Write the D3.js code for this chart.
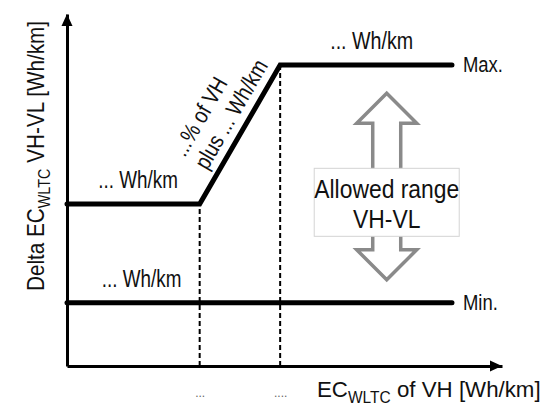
<!DOCTYPE html>
<html>
<head>
<meta charset="utf-8">
<script src="https://cdn.jsdelivr.net/npm/d3@7"></script>
<style>
  body { margin: 0; background: #fff; }
  text { font-family: "Liberation Sans", Arial, sans-serif; fill: #111; }
</style>
</head>
<body>
<svg id="chart" width="553" height="419"></svg>
<script>
// limit curves (concept chart, no real numbers)
var maxLine = [{x: 0, y: 46}, {x: 30.5, y: 46}, {x: 49, y: 85.5}, {x: 88.5, y: 85.5}];
var minLine = [{x: 0, y: 18}, {x: 88.5, y: 18}];
var guideX = [30.5, 49];
var xTickLabels = ['...', '....'];
var lineLabels = [
  {x: 7.2, y: 46, text: '... Wh/km'},
  {x: 8, y: 18, text: '... Wh/km'},
  {x: 60.5, y: 85.5, text: '... Wh/km'}
];
var endLabels = ['Max.', 'Min.'];
var slopeLabel = ['...% of VH', 'plus ... Wh/km'];
var rangeArrow = {x: 73.5, top: 77.5, bottom: 24.5, mid: 46.5};
var rangeLabel = ['Allowed range', 'VH-VL'];

var svg = d3.select('#chart');

var x = d3.scaleLinear().domain([0, 100]).range([67, 502]);
var y = d3.scaleLinear().domain([0, 100]).range([366, 14]);

// no narrow font installed, so squeeze the normal one
function narrow(tx, ty, rot, sq) {
  return svg.append('g')
    .attr('transform', 'translate(' + tx + ',' + ty + ')' + (rot ? ' rotate(' + rot + ')' : '') + ' scale(' + sq + ',1)')
    .append('text');
}

// x axis, only the two dotted tick labels
var gx = svg.append('g')
  .attr('transform', 'translate(0,' + y(0) + ')')
  .call(d3.axisBottom(x)
    .tickValues(guideX)
    .tickFormat((d, i) => xTickLabels[i])
    .tickSize(0)
    .tickSizeOuter(0)
    .tickPadding(22));
gx.select('.domain').attr('stroke', '#000').attr('stroke-width', 3);
gx.selectAll('text')
  .style('font-size', '12px')
  .style('fill', '#666');

var gy = svg.append('g')
  .attr('transform', 'translate(' + x(0) + ',0)')
  .call(d3.axisLeft(y).tickValues([]).tickSize(0).tickSizeOuter(0));
gy.select('.domain').attr('stroke', '#000').attr('stroke-width', 3);

// arrow heads
svg.append('path')
  .attr('d', 'M' + x(100) + ',' + y(0) + 'l-12,-5.5v11z')
  .attr('fill', '#000');
svg.append('path')
  .attr('d', 'M' + x(0) + ',' + y(100) + 'l-5.5,12h11z')
  .attr('fill', '#000');

// dashed guides
svg.selectAll('.guide')
  .data(guideX)
  .enter()
  .append('line')
    .attr('class', 'guide')
    .attr('x1', (d) => x(d))
    .attr('x2', (d) => x(d))
    .attr('y1', y(0))
    .attr('y2', (d) => y(maxLine.find((p) => p.x == d).y))
    .attr('stroke', '#000')
    .attr('stroke-width', 2)
    .attr('stroke-dasharray', '5,3');

var line = d3.line().x((d) => x(d.x)).y((d) => y(d.y));

svg.selectAll('.limit')
  .data([maxLine, minLine])
  .enter()
  .append('path')
    .attr('class', 'limit')
    .attr('d', line)
    .attr('fill', 'none')
    .attr('stroke', '#000')
    .attr('stroke-width', 5)
    .attr('stroke-linecap', 'round')
    .attr('stroke-linejoin', 'miter');

// labels above the plateaus
lineLabels.forEach(function(d, i) {
  narrow(x(d.x), y(d.y) - 16, 0, 0.82)
    .style('font-size', i == 2 ? '24px' : '23px')
    .text(d.text);
});

// Max. / Min.
var ends = [maxLine[maxLine.length - 1], minLine[minLine.length - 1]];
ends.forEach(function(d, i) {
  narrow(x(d.x) + 11, y(d.y) + 7, 0, 0.84)
    .style('font-size', '22px')
    .text(endLabels[i]);
});

// label along the slope
var p1 = maxLine[1], p2 = maxLine[2];
var mx = (x(p1.x) + x(p2.x)) / 2, my = (y(p1.y) + y(p2.y)) / 2;
var ang = Math.atan2(y(p2.y) - y(p1.y), x(p2.x) - x(p1.x)) * 180 / Math.PI;
narrow(mx, my, ang, 0.84)
  .style('font-size', '23px')
  .selectAll('tspan')
  .data(slopeLabel)
  .enter()
  .append('tspan')
    .attr('x', -48 / 0.84)
    .attr('y', (d, i) => i == 0 ? -36 : -10)
    .text((d) => d);

// double arrow for the allowed range
var ax = x(rangeArrow.x), at = y(rangeArrow.top), ab = y(rangeArrow.bottom);
var hw = 30, sw = 14, hh = 30;
var arrowPath = 'M' + ax + ',' + at +
  'L' + (ax + hw) + ',' + (at + hh) + 'H' + (ax + sw) + 'V' + (ab - hh) +
  'H' + (ax + hw) + 'L' + ax + ',' + ab + 'L' + (ax - hw) + ',' + (ab - hh) +
  'H' + (ax - sw) + 'V' + (at + hh) + 'H' + (ax - hw) + 'Z';
svg.append('path')
  .attr('d', arrowPath)
  .attr('fill', '#fff')
  .attr('stroke', '#8a8a8a')
  .attr('stroke-width', 3.5)
  .attr('stroke-linejoin', 'miter');

var bw = 145, bh = 68, by = y(rangeArrow.mid);
svg.append('rect')
  .attr('x', ax - bw / 2)
  .attr('y', by - bh / 2)
  .attr('width', bw)
  .attr('height', bh)
  .attr('fill', '#fff')
  .attr('stroke', '#d4d4d4')
  .attr('stroke-width', 1);
narrow(ax, by, 0, 0.88)
  .attr('text-anchor', 'middle')
  .style('font-size', '26px')
  .selectAll('tspan')
  .data(rangeLabel)
  .enter()
  .append('tspan')
    .attr('x', 0)
    .attr('y', (d, i) => -4 + i * 30)
    .text((d) => d);

// axis titles
var yt = narrow(44, 156, -90, 0.9)
  .attr('text-anchor', 'middle')
  .style('font-size', '23px');
yt.append('tspan').text('Delta EC');
yt.append('tspan').attr('dy', 6).style('font-size', '16px').text('WLTC');
yt.append('tspan').attr('dy', -6).text(' VH-VL [Wh/km]');

var xt = narrow(317, 397, 0, 0.97)
  .style('font-size', '23px');
xt.append('tspan').text('EC');
xt.append('tspan').attr('dy', 6).style('font-size', '16px').text('WLTC');
xt.append('tspan').attr('dy', -6).text(' of VH [Wh/km]');
</script>
</body>
</html>
